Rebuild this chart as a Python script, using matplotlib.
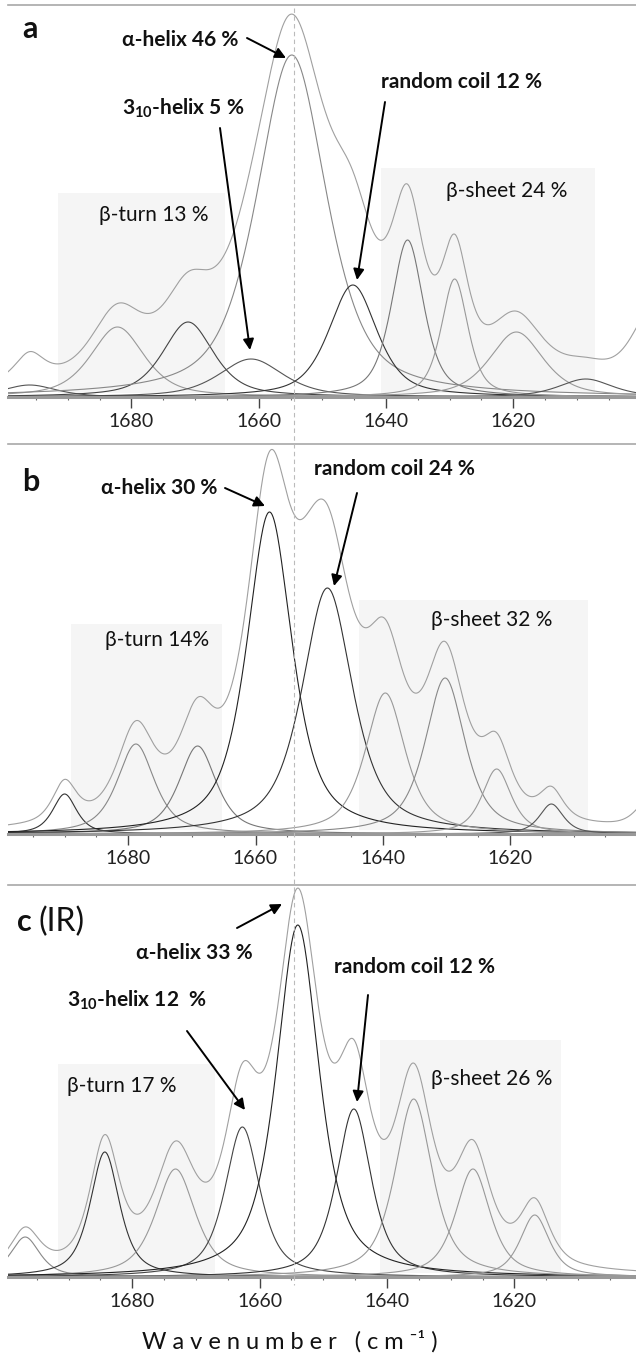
import numpy as np
import matplotlib
matplotlib.use('Agg')
import matplotlib.pyplot as plt
from matplotlib.patches import FancyArrowPatch
from matplotlib.lines import Line2D
from matplotlib.ticker import MultipleLocator

W, H = 636, 1362

plt.rcParams['font.family'] = ['Lato', 'DejaVu Sans']
plt.rcParams['mathtext.fontset'] = 'custom'
plt.rcParams['mathtext.rm'] = 'Lato'
plt.rcParams['mathtext.bf'] = 'Lato:bold'

TICKS = [1680, 1660, 1640, 1620]

# band components: centre (cm-1), height, fwhm, grey
a_centers = [1696.0, 1682.2, 1671.1, 1661.2, 1654.8, 1645.2, 1636.6, 1629.2, 1619.5, 1608.6]
a_heights = [12, 70, 75, 38, 342, 112, 157, 118, 65, 18]
a_fwhm = [10, 10, 9.5, 12, 13, 9, 6, 5, 10, 10]
a_colors = ['#555555', '#999999', '#444444', '#555555', '#888888', '#333333',
            '#777777', '#999999', '#999999', '#555555']
a_extra_centers = [1696.0, 1598.0]
a_extra_heights = [20, 80]
a_extra_fwhm = [5, 8]
a_eta = 0.6

b_centers = [1690.0, 1678.8, 1669.1, 1657.8, 1648.7, 1639.6, 1630.2, 1622.1, 1613.5]
b_heights = [40, 90, 88, 322, 246, 141, 156, 65, 30]
b_fwhm = [4.5, 7, 7, 8.5, 9.5, 7.5, 7.5, 5.5, 4.5]
b_colors = ['#333333', '#888888', '#777777', '#222222', '#333333', '#999999',
            '#888888', '#999999', '#555555']
b_extra_centers = [1651.5, 1598.0]
b_extra_heights = [30, 30]
b_extra_fwhm = [6, 5]
b_eta = 0.7

c_centers = [1696.8, 1684.3, 1673.2, 1662.7, 1654.0, 1645.2, 1635.8, 1626.5, 1616.8]
c_heights = [40, 125, 108, 150, 352, 168, 178, 108, 62]
c_fwhm = [5.5, 5.5, 7.5, 6.5, 8, 6.5, 7, 6.5, 5.5]
c_colors = ['#888888', '#333333', '#999999', '#444444', '#222222', '#333333',
            '#999999', '#999999', '#999999']
c_extra_centers = []
c_extra_heights = []
c_extra_fwhm = []
c_eta = 0.7

# shaded regions: (start, end, height)
a_turn = (1691.6, 1665.3, 204)
a_sheet = (1640.8, 1607.1, 229)
b_turn = (1689.0, 1665.2, 210)
b_sheet = (1643.8, 1607.8, 234)
c_turn = (1691.7, 1667.0, 213)
c_sheet = (1641.1, 1612.7, 237)


def band(x, c, h, w, eta):
    g = np.exp(-4 * np.log(2) * ((x - c) / w) ** 2)
    l = 1 / (1 + 4 * ((x - c) / w) ** 2)
    return h * (eta * l + (1 - eta) * g)


def px(x, y):
    return x / W, 1 - y / H


fig = plt.figure(figsize=(W / 100, H / 100), dpi=100)


def draw_panel(top, base, xlim, centers, heights, fwhm, colors, ex_c, ex_h, ex_w, eta, turn, sheet):
    ax = fig.add_axes((8 / W, 1 - base / H, 628 / W, (base - top) / H))
    ax.set_xlim(*xlim)
    ax.set_ylim(0, base - top)
    x = np.linspace(1703, 1597, 2000)
    for reg in (turn, sheet):
        ax.fill_between([reg[0], reg[1]], 4, reg[2], color='#f5f5f5', lw=0, zorder=0)
    total = np.zeros_like(x)
    for c, h, w, col in zip(centers, heights, fwhm, colors):
        y = band(x, c, h, w, eta)
        total += y
        ax.plot(x, y, color=col, lw=0.8, zorder=2)
    for c, h, w in zip(ex_c, ex_h, ex_w):
        total += band(x, c, h, w, eta)
    ax.plot(x, total, color='#a0a0a0', lw=0.8, zorder=2)
    for s in ('left', 'right'):
        ax.spines[s].set_visible(False)
    ax.spines['top'].set_color('#a8a8a8')
    ax.spines['top'].set_linewidth(1.2)
    ax.spines['bottom'].set_color('#999999')
    ax.spines['bottom'].set_linewidth(2.2)
    ax.set_yticks([])
    ax.set_xticks(TICKS)
    ax.set_xticklabels([str(t) for t in TICKS])
    ax.xaxis.set_minor_locator(MultipleLocator(5))
    ax.tick_params(axis='x', which='major', direction='out', length=8, width=1,
                   color='#444444', labelsize=14, pad=3.5, labelcolor='#222222')
    ax.tick_params(axis='x', which='minor', direction='out', length=2.5, width=0.8,
                   color='#666666')
    ax.patch.set_alpha(0)
    return ax


draw_panel(5, 397, (1699.4, 1600.7), a_centers, a_heights, a_fwhm, a_colors,
           a_extra_centers, a_extra_heights, a_extra_fwhm, a_eta, a_turn, a_sheet)
draw_panel(444, 834, (1698.9, 1600.2), b_centers, b_heights, b_fwhm, b_colors,
           b_extra_centers, b_extra_heights, b_extra_fwhm, b_eta, b_turn, b_sheet)
draw_panel(885, 1277, (1699.5, 1600.9), c_centers, c_heights, c_fwhm, c_colors,
           c_extra_centers, c_extra_heights, c_extra_fwhm, c_eta, c_turn, c_sheet)

# dashed guide through all panels
fig.add_artist(Line2D([294 / W, 294 / W], [1 - 8 / H, 1 - 1285 / H],
                      transform=fig.transFigure, color='#bbbbbb', lw=0.8,
                      ls=(0, (4, 3)), zorder=1))


def label(x, y, s, bold=True, size=15, ha='left'):
    fig.text(*px(x, y), s, ha=ha, va='center', fontsize=size,
             fontweight='bold' if bold else 'normal', color='#111111')


def arrow(x0, y0, x1, y1):
    fig.add_artist(FancyArrowPatch(px(x0, y0), px(x1, y1), transform=fig.transFigure,
                                   arrowstyle='-|>', mutation_scale=16, lw=1.4,
                                   color='black', shrinkA=0, shrinkB=0))


# panel a
label(22, 29, 'a', size=22)
label(122, 40, 'α-helix 46 %')
label(122, 108, r'$\mathbf{3_{10}}$-helix 5 %')
label(381, 82, 'random coil 12 %')
label(99, 215, 'β-turn 13 %', bold=False)
label(446, 191, 'β-sheet 24 %', bold=False)
arrow(247, 38, 286, 58)
arrow(220, 128, 250, 350)
arrow(385, 102, 357, 280)

# panel b
label(22, 482, 'b', size=22)
label(101, 488, 'α-helix 30 %')
label(314, 469, 'random coil 24 %')
label(105, 640, 'β-turn 14%', bold=False)
label(431, 620, 'β-sheet 32 %', bold=False)
arrow(225, 488, 265, 506)
arrow(357, 493, 334, 586)

# panel c
label(17, 922, 'c', size=22)
label(39, 922, '(IR)', bold=False, size=23)
label(136, 953, 'α-helix 33 %')
label(334, 967, 'random coil 12 %')
label(67, 1000, r'$\mathbf{3_{10}}$-helix 12  %')
label(67, 1086, 'β-turn 17 %', bold=False)
label(431, 1079, 'β-sheet 26 %', bold=False)
arrow(237, 928, 282, 904)
arrow(187, 1031, 245, 1110)
arrow(368, 995, 357, 1102)

fig.text(*px(290, 1341), 'W a v e n u m b e r   ( c m ⁻¹ )', ha='center', va='center',
         fontsize=17, color='#111111')

fig.savefig('out.png', dpi=100)
